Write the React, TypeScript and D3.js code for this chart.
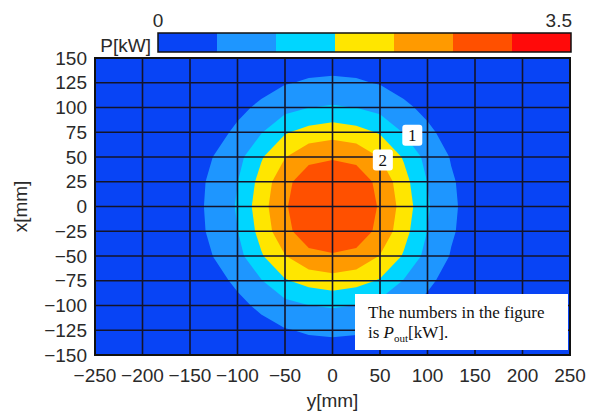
import React from 'react';
import * as d3 from 'd3';

// horizontal axis: y[mm], vertical axis: x[mm]
const colY = [-250, -225, -200, -175, -150, -125, -100, -75, -50, -25, 0, 25, 50, 75, 100, 125, 150, 175, 200, 225, 250];
const rowX = [150, 125, 100, 75, 50, 25, 0, -25, -50, -75, -100, -125, -150];

// measured output power P [kW] on the 25 mm grid (rows follow rowX, columns follow colY)
const power = [
  [0.15, 0.15, 0.15, 0.15, 0.15, 0.16, 0.19, 0.23, 0.27, 0.29, 0.30, 0.29, 0.27, 0.23, 0.19, 0.16, 0.15, 0.15, 0.15, 0.15, 0.15],
  [0.15, 0.15, 0.15, 0.15, 0.16, 0.20, 0.26, 0.35, 0.47, 0.55, 0.58, 0.55, 0.47, 0.35, 0.26, 0.20, 0.16, 0.15, 0.15, 0.15, 0.15],
  [0.15, 0.15, 0.15, 0.16, 0.19, 0.26, 0.40, 0.58, 0.83, 0.99, 1.05, 0.99, 0.83, 0.58, 0.40, 0.26, 0.19, 0.16, 0.15, 0.15, 0.15],
  [0.15, 0.15, 0.15, 0.17, 0.23, 0.35, 0.58, 0.97, 1.45, 1.68, 1.80, 1.68, 1.45, 0.97, 0.58, 0.35, 0.23, 0.17, 0.15, 0.15, 0.15],
  [0.15, 0.15, 0.15, 0.19, 0.27, 0.51, 0.83, 1.45, 1.98, 2.38, 2.45, 2.38, 1.98, 1.45, 0.83, 0.47, 0.27, 0.19, 0.15, 0.15, 0.15],
  [0.15, 0.15, 0.15, 0.20, 0.31, 0.60, 0.99, 1.68, 2.38, 2.75, 2.85, 2.75, 2.38, 1.68, 0.99, 0.55, 0.29, 0.20, 0.15, 0.15, 0.15],
  [0.15, 0.15, 0.15, 0.20, 0.33, 0.62, 1.05, 1.80, 2.45, 2.85, 2.95, 2.85, 2.45, 1.80, 1.05, 0.58, 0.30, 0.20, 0.15, 0.15, 0.15],
  [0.15, 0.15, 0.15, 0.20, 0.31, 0.60, 0.99, 1.68, 2.38, 2.75, 2.85, 2.75, 2.38, 1.68, 0.99, 0.55, 0.29, 0.20, 0.15, 0.15, 0.15],
  [0.15, 0.15, 0.15, 0.19, 0.27, 0.51, 0.83, 1.45, 1.98, 2.38, 2.45, 2.38, 1.98, 1.45, 0.83, 0.47, 0.27, 0.19, 0.15, 0.15, 0.15],
  [0.15, 0.15, 0.15, 0.17, 0.23, 0.36, 0.58, 0.97, 1.45, 1.68, 1.80, 1.68, 1.45, 0.97, 0.58, 0.35, 0.23, 0.17, 0.15, 0.15, 0.15],
  [0.15, 0.15, 0.15, 0.16, 0.19, 0.27, 0.40, 0.58, 0.83, 0.99, 1.05, 0.99, 0.83, 0.58, 0.40, 0.26, 0.19, 0.16, 0.15, 0.15, 0.15],
  [0.15, 0.15, 0.15, 0.15, 0.16, 0.20, 0.27, 0.36, 0.47, 0.55, 0.58, 0.55, 0.47, 0.35, 0.26, 0.20, 0.16, 0.15, 0.15, 0.15, 0.15],
  [0.15, 0.15, 0.15, 0.15, 0.15, 0.16, 0.19, 0.23, 0.27, 0.29, 0.30, 0.29, 0.27, 0.23, 0.19, 0.16, 0.15, 0.15, 0.15, 0.15, 0.15],
];

const bandEdges = [0, 0.5, 1.0, 1.5, 2.0, 2.5, 3.0, 3.5];
const bandColors = ['#0844f5', '#1e96ff', '#00d6ff', '#ffe600', '#ff9a00', '#ff5000', '#ff0a0a'];
const barLabels = ['0', '3.5'];

const yTicks = [-250, -200, -150, -100, -50, 0, 50, 100, 150, 200, 250];
const xTicks = [150, 125, 100, 75, 50, 25, 0, -25, -50, -75, -100, -125, -150];

// contour labels (level, position in y/x mm)
const levelLabels = [
  { text: '1', y: 84, x: 72 },
  { text: '2', y: 53, x: 47 },
];

const W = 597;
const H = 415;
const plot = { left: 95, right: 570, top: 58, bottom: 355 };
const sansFont = '"Liberation Sans", Arial, sans-serif';
const serifFont = '"Liberation Serif", "Times New Roman", serif';
const fmt = (v: number) => (v < 0 ? '\u2212' + Math.abs(v) : String(v));

const App = () => {
  const sx = d3.scaleLinear().domain([-250, 250]).range([plot.left, plot.right]);
  const sy = d3.scaleLinear().domain([-150, 150]).range([plot.bottom, plot.top]);
  const sBar = d3.scaleLinear().domain([0, 3.5]).range([158, 571]);

  const n = colY.length;
  const m = rowX.length;
  const stepY = colY[1] - colY[0];
  const stepX = rowX[0] - rowX[1];
  const contours = d3
    .contours()
    .size([n, m])
    .thresholds(bandEdges.slice(1, -1))(power.flat());

  const proj = d3.geoTransform({
    point(px: number, py: number) {
      // @ts-ignore
      this.stream.point(sx(colY[0] + (px - 0.5) * stepY), sy(rowX[0] - (py - 0.5) * stepX));
    },
  });
  const path = d3.geoPath(proj);

  const textColor = '#2a2a2a';

  return (
    <svg width={W} height={H} style={{ position: 'absolute', left: 0, top: 0, background: '#fff' }}>
      <defs>
        <clipPath id="plotClip">
          <rect x={plot.left} y={plot.top} width={plot.right - plot.left} height={plot.bottom - plot.top} />
        </clipPath>
      </defs>

      {/* colour bar */}
      {bandColors.map((c, i) => (
        <rect key={i} x={sBar(bandEdges[i])} y={33} width={sBar(bandEdges[i + 1]) - sBar(bandEdges[i])} height={19} fill={c} />
      ))}
      <rect x={sBar(0)} y={33} width={sBar(3.5) - sBar(0)} height={19} fill="none" stroke="#111" strokeWidth={1.5} />
      <text x={sBar(0)} y={27} textAnchor="middle" fontFamily={sansFont} fontSize={19} fill={textColor}>{barLabels[0]}</text>
      <text x={sBar(3.5) + 1} y={27} textAnchor="end" fontFamily={sansFont} fontSize={19} fill={textColor}>{barLabels[1]}</text>
      <text x={151} y={52} textAnchor="end" fontFamily={sansFont} fontSize={19} fill={textColor}>P[kW]</text>

      {/* contour map */}
      <g clipPath="url(#plotClip)">
        <rect x={plot.left} y={plot.top} width={plot.right - plot.left} height={plot.bottom - plot.top} fill={bandColors[0]} />
        {contours.map((c, i) => (
          <path key={i} d={path(c as any) || ''} fill={bandColors[i + 1]} />
        ))}
      </g>

      {/* grid */}
      <g stroke="#14142a" strokeWidth={1.6}>
        {yTicks.map((t) => (
          <line key={'v' + t} x1={sx(t)} x2={sx(t)} y1={plot.top} y2={plot.bottom} />
        ))}
        {xTicks.map((t) => (
          <line key={'h' + t} x1={plot.left} x2={plot.right} y1={sy(t)} y2={sy(t)} />
        ))}
      </g>
      <rect x={plot.left} y={plot.top} width={plot.right - plot.left} height={plot.bottom - plot.top} fill="none" stroke="#111" strokeWidth={2} />

      {/* contour level labels */}
      {levelLabels.map((l) => (
        <g key={l.text} transform={`translate(${sx(l.y)},${sy(l.x)})`}>
          <rect x={-10} y={-10.5} width={20} height={21} rx={3} fill="#fff" />
          <text y={6} textAnchor="middle" fontFamily={serifFont} fontSize={17} fill="#111">{l.text}</text>
        </g>
      ))}

      {/* note box */}
      <rect x={355} y={294} width={213} height={56} fill="#fff" />
      <text x={368} y={318} fontFamily={serifFont} fontSize={17} fill="#111">The numbers in the figure</text>
      <text x={368} y={338} fontFamily={serifFont} fontSize={17} fill="#111">
        is <tspan fontStyle="italic">P</tspan>
        <tspan fontSize={11} dy={4}>out</tspan>
        <tspan dy={-4}>[kW].</tspan>
      </text>

      {/* axes labels */}
      {xTicks.map((t) => (
        <text key={'yl' + t} x={87} y={sy(t)} dy="0.35em" textAnchor="end" fontFamily={sansFont} fontSize={19} fill={textColor}>
          {fmt(t)}
        </text>
      ))}
      {yTicks.map((t) => (
        <text key={'xl' + t} x={sx(t)} y={382} textAnchor="middle" fontFamily={sansFont} fontSize={19} fill={textColor}>
          {fmt(t)}
        </text>
      ))}
      <text x={sx(0)} y={407} textAnchor="middle" fontFamily={sansFont} fontSize={19} fill={textColor}>y[mm]</text>
      <text transform={`translate(27,${(plot.top + plot.bottom) / 2}) rotate(-90)`} textAnchor="middle" fontFamily={sansFont} fontSize={19} fill={textColor}>
        x[mm]
      </text>
    </svg>
  );
};

export default App;
